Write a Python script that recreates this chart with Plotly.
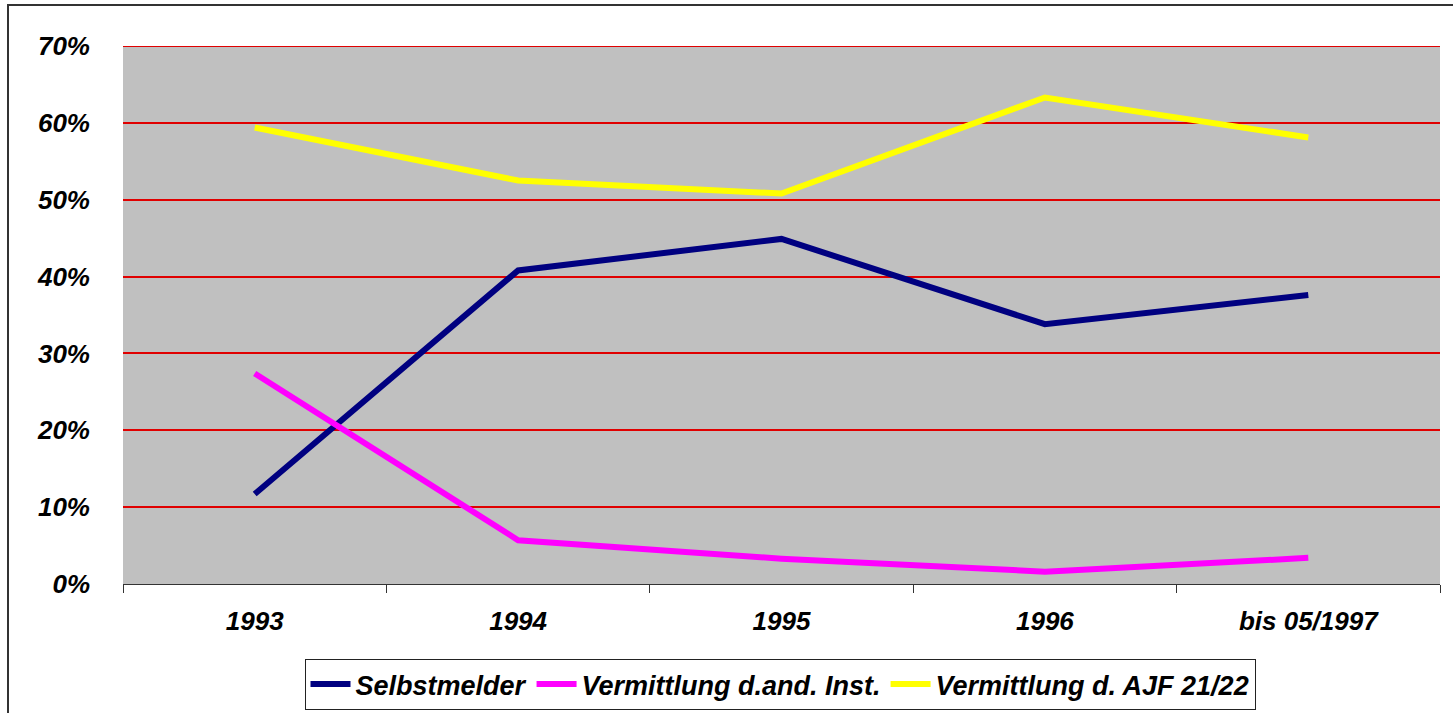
import plotly.graph_objects as go

categories = ["1993", "1994", "1995", "1996", "bis 05/1997"]
selbstmelder = [0.117, 0.408, 0.449, 0.338, 0.376]
vermittlung_inst = [0.274, 0.057, 0.033, 0.016, 0.034]
vermittlung_ajf = [0.594, 0.525, 0.508, 0.633, 0.581]

series_names = ["Selbstmelder", "Vermittlung d.and. Inst.", "Vermittlung d. AJF 21/22"]
series_colors = ["#000080", "#FF00FF", "#FFFF00"]
tick_vals = [0, 0.1, 0.2, 0.3, 0.4, 0.5, 0.6, 0.7]

FONT = dict(family="Liberation Sans, Arial, sans-serif", size=26, color="black",
            weight="bold", style="italic")

fig = go.Figure()
for name, vals, col in zip(series_names, [selbstmelder, vermittlung_inst, vermittlung_ajf], series_colors):
    fig.add_trace(go.Scatter(x=categories, y=vals, name=name, mode="lines",
                             line=dict(color=col, width=6)))

L, R, T, B = 123, 13, 46, 129
W, H = 1453, 713
pw, ph = W - L - R, H - T - B

fig.update_layout(
    width=W, height=H,
    margin=dict(l=L, r=R, t=T, b=B, autoexpand=False),
    paper_bgcolor="white",
    plot_bgcolor="#C0C0C0",
    font=FONT,
    showlegend=True,
    legend=dict(orientation="h", xref="container", x=780 / W, xanchor="center",
                yref="container", y=1 - 659 / H, yanchor="top",
                bgcolor="white", bordercolor="#222", borderwidth=1,
                font=dict(family="Liberation Sans, Arial, sans-serif", size=27,
                          color="black", weight="bold", style="italic"),
                tracegroupgap=0, itemwidth=40),
    xaxis=dict(type="category", showgrid=False, showline=True, linecolor="#333",
               linewidth=1, ticks="outside", ticklen=8, tickcolor="#333",
               tickson="boundaries", ticklabelstandoff=14, range=[-0.5, 4.5]),
    yaxis=dict(range=[0, 0.7], tickvals=tick_vals, tickformat=".0%",
               showgrid=True, gridcolor="#E00000", gridwidth=2,
               zeroline=False, showline=False, ticks="", ticklabelstandoff=32),
    shapes=[dict(type="rect", xref="paper", yref="paper",
                 x0=(8 - L) / pw, x1=1.05, y0=-0.3, y1=(H - B - 5) / ph,
                 line=dict(color="#333", width=2), fillcolor="rgba(0,0,0,0)",
                 layer="below"),
            dict(type="line", xref="paper", yref="y", x0=0, x1=1,
                 y0=tick_vals[-1], y1=tick_vals[-1],
                 line=dict(color="#E00000", width=2), layer="below")],
)

fig.write_html("out.html", config={"displayModeBar": False},
               post_script="document.body.style.margin='0';")
